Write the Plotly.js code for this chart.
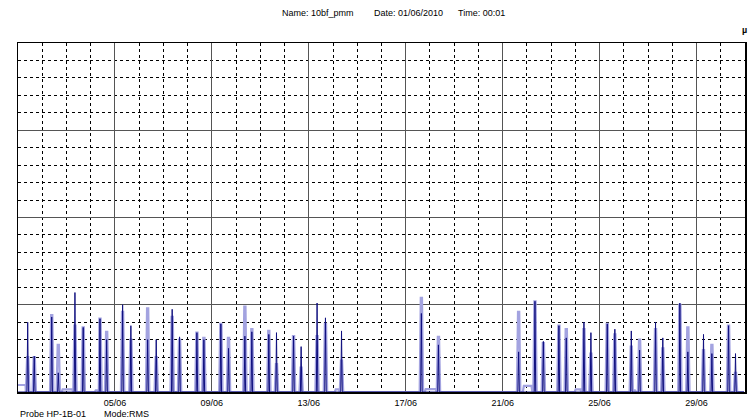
<!DOCTYPE html>
<html>
<head>
<meta charset="utf-8">
<script src="https://cdn.plot.ly/plotly-3.0.1.min.js"></script>
<style>
  html, body { margin: 0; padding: 0; background: #fff; }
  #chart { width: 749px; height: 419px; }
</style>
</head>
<body>
<div id="chart"></div>
<script>
// Hours since 01/06/2010 00:00 of each burst
const peakHours = [9.6, 16.1, 33.4, 39.9, 56.4, 64.6, 81.2, 87.8, 103.6, 111.8,
  128.4, 136.9, 152.7, 160.0, 177.2, 184.1, 200.9, 208.5, 224.7, 231.6,
  248.4, 256.0, 272.9, 280.4, 296.2, 304.5, 320.4, 399.5, 416.4, 495.8,
  512.0, 520.3, 535.7, 543.0, 560.5, 567.4, 583.6, 591.1, 607.4, 615.6,
  631.4, 638.6, 655.5, 663.4, 678.9, 687.2, 703.7, 710.6];
// Dark (navy) trace peak values, grid units
const darkPeaks = [4.0, 2.05, 4.3, 1.1, 5.7, 3.7, 4.2, 3.0, 5.0, 3.8,
  3.0, 3.0, 4.74, 3.16, 3.4, 3.0, 3.9, 2.5, 3.2, 3.45,
  3.3, 3.4, 3.2, 2.6, 5.1, 4.25, 3.5, 4.5, 2.7, 2.3,
  5.2, 2.9, 3.8, 3.1, 4.0, 3.4, 3.9, 3.6, 3.5, 2.4,
  4.0, 3.1, 5.1, 2.3, 3.3, 2.2, 3.8, 2.2];
// Light (lavender) trace peak values, grid units
const lightPeaks = [2.0, 2.0, 4.4, 2.7, 3.8, 3.7, 4.2, 3.45, 4.6, 3.0,
  4.8, 2.0, 4.3, 3.0, 3.4, 3.1, 3.9, 3.1, 4.9, 3.6,
  3.5, 1.6, 3.2, 1.4, 3.2, 3.9, 1.8, 5.4, 3.16, 4.6,
  5.2, 2.8, 3.8, 3.6, 3.6, 2.2, 3.9, 3.3, 2.6, 3.0,
  3.6, 2.5, 5.0, 3.7, 2.4, 2.7, 3.8, 1.1];
// Low baseline humps of the light trace
const bumpStart = [0, 43.2, 76, 313.7, 402.8, 500, 551.3, 609];
const bumpEnd   = [7.8, 54.7, 80, 318.7, 414.7, 509.5, 557.9, 612];
const bumpLevel = [0.4, 0.15, 0.1, 0.15, 0.17, 0.35, 0.15, 0.1];
const endHour = 719;
const tickHours = [96, 192, 288, 384, 480, 576, 672];
const tickText = ['05/06', '09/06', '13/06', '17/06', '21/06', '25/06', '29/06'];
// dashed day lines (every 24 h, except where the solid 4-day lines are)
const dayHours = [24, 48, 72, 120, 144, 168, 216, 240, 264, 312, 336, 360,
  408, 432, 456, 504, 528, 552, 600, 624, 648, 696];
const yMajor = [5, 10, 15];
const yMinor = [1, 2, 3, 4, 6, 7, 8, 9, 11, 12, 13, 14, 16, 17, 18, 19];

// build line vertices from the values above
const darkX = [0], darkY = [0];
peakHours.forEach((t, i) => {
  darkX.push(t - 0.7, t, t + 0.7);
  darkY.push(0, darkPeaks[i], 0);
});
darkX.push(endHour); darkY.push(0);

const lp = [[0, 0.4]];
peakHours.forEach((t, i) => {
  lp.push([t - 1.7, 0], [t - 0.6, lightPeaks[i]], [t + 0.6, lightPeaks[i]], [t + 1.7, 0]);
});
bumpStart.forEach((s, i) => {
  if (s === 0) { lp.push([bumpEnd[i] - 0.3, bumpLevel[i]], [bumpEnd[i], 0]); return; }
  lp.push([s, 0], [s + 1, bumpLevel[i]], [bumpEnd[i] - 1, bumpLevel[i]], [bumpEnd[i], 0]);
});
lp.push([endHour, 0]);
lp.sort((a, b) => a[0] - b[0]);

const traces = [
  { x: lp.map(p => p[0]), y: lp.map(p => p[1]), mode: 'lines', type: 'scatter',
    line: { color: '#a3a3e0', width: 2.2 }, hoverinfo: 'skip' },
  { x: darkX, y: darkY, mode: 'lines', type: 'scatter',
    line: { color: '#10107f', width: 1 }, hoverinfo: 'skip' }
];

const font = { family: 'Liberation Sans, Arial, sans-serif', size: 9, color: '#000' };
const layout = {
  width: 749, height: 419,
  margin: { l: 18, r: 4, t: 43, b: 27, pad: 0 },
  paper_bgcolor: '#fff', plot_bgcolor: '#fff',
  showlegend: false,
  font: font,
  xaxis: {
    range: [0, 720], tickmode: 'array', tickvals: tickHours, ticktext: tickText,
    showgrid: true, gridcolor: '#555', gridwidth: 1,
    minor: { tickmode: 'array', tickvals: dayHours, showgrid: true, gridcolor: '#000', gridwidth: 1, griddash: '3px,3px', ticks: '' },
    ticks: '', showline: true, linecolor: '#000', linewidth: 1.5, mirror: true,
    zeroline: false, tickfont: font, ticklabelstandoff: 2, fixedrange: true
  },
  yaxis: {
    range: [0, 20], tickmode: 'array', tickvals: yMajor, showticklabels: false,
    showgrid: true, gridcolor: '#555', gridwidth: 1,
    minor: { tickmode: 'array', tickvals: yMinor, showgrid: true, gridcolor: '#000', gridwidth: 1, griddash: '3px,3px', ticks: '' },
    ticks: '', showline: true, linecolor: '#000', linewidth: 1.5, mirror: true,
    zeroline: false, fixedrange: true
  },
  annotations: [
    { text: 'Name: 10bf_pmm', xref: 'paper', yref: 'paper', x: 0.465, y: 1.0, yshift: 30, xanchor: 'right', yanchor: 'middle', showarrow: false, font: font },
    { text: 'Date: 01/06/2010', xref: 'paper', yref: 'paper', x: 0.487, y: 1.0, yshift: 30, xanchor: 'left', yanchor: 'middle', showarrow: false, font: font },
    { text: 'Time: 00:01', xref: 'paper', yref: 'paper', x: 0.6025, y: 1.0, yshift: 30, xanchor: 'left', yanchor: 'middle', showarrow: false, font: font },
    { text: '<b>µ</b>', xref: 'paper', yref: 'paper', x: 1.0055, y: 1.0, yshift: 13, xanchor: 'right', yanchor: 'middle', showarrow: false, font: font },
    { text: 'Probe HP-1B-01', xref: 'paper', yref: 'paper', x: 0, y: 0, yshift: -22, xanchor: 'left', yanchor: 'middle', showarrow: false, font: font },
    { text: 'Mode:RMS', xref: 'paper', yref: 'paper', x: 0.115, y: 0, yshift: -22, xanchor: 'left', yanchor: 'middle', showarrow: false, font: font }
  ]
};

Plotly.newPlot('chart', traces, layout, { staticPlot: true, displayModeBar: false });
</script>
</body>
</html>
